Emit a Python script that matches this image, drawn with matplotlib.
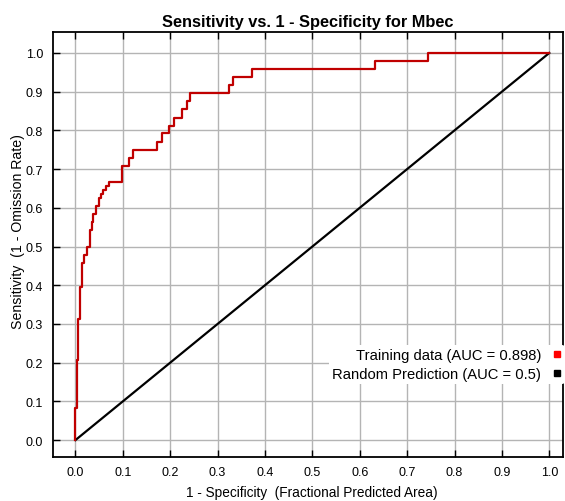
import matplotlib
matplotlib.use("Agg")
import matplotlib.pyplot as plt
from matplotlib.lines import Line2D

plt.rcParams['font.family'] = ['Liberation Sans', 'DejaVu Sans']

# ROC data (1 - specificity, sensitivity) at each step
fpr = [0.000, 0.000, 0.003, 0.006, 0.009, 0.013, 0.018, 0.024, 0.030, 0.034, 0.038,
       0.044, 0.049, 0.054, 0.058, 0.064, 0.070, 0.099, 0.114, 0.122, 0.172, 0.182,
       0.198, 0.207, 0.224, 0.235, 0.242, 0.323, 0.333, 0.373, 0.632, 0.743, 1.000]
tpr = [0.000, 0.083, 0.208, 0.3125, 0.396, 0.458, 0.479, 0.500, 0.542, 0.5625, 0.583,
       0.604, 0.625, 0.635, 0.646, 0.656, 0.667, 0.708, 0.729, 0.750, 0.771, 0.792,
       0.8125, 0.833, 0.854, 0.875, 0.896, 0.917, 0.938, 0.958, 0.979, 1.000, 1.000]
random_x = [0.0, 1.0]
random_y = [0.0, 1.0]
ticks = [0.0, 0.1, 0.2, 0.3, 0.4, 0.5, 0.6, 0.7, 0.8, 0.9, 1.0]
tick_labels = ["0.0", "0.1", "0.2", "0.3", "0.4", "0.5", "0.6", "0.7", "0.8", "0.9", "1.0"]
legend_labels = ["Training data (AUC = 0.898)", "Random Prediction (AUC = 0.5)"]

fig = plt.figure(figsize=(5.65, 5.02), dpi=100)
ax = fig.add_axes([0.0933, 0.0882, 0.9032, 0.8467])

ax.plot(random_x, random_y, color='black', lw=1.6, zorder=3)
ax.plot(fpr, tpr, drawstyle='steps-post', color='#c00000', lw=1.6, zorder=4)

ax.set_xlim(-0.048, 1.029)
ax.set_ylim(-0.043, 1.055)
ax.set_xticks(ticks)
ax.set_xticklabels(tick_labels)
ax.set_yticks(ticks)
ax.set_yticklabels(tick_labels)
ax.grid(True, color='#b4b4b4', lw=1.0, zorder=0)
ax.set_axisbelow(True)
ax.tick_params(direction='in', length=5, width=1, top=True, right=False,
               labelsize=9, pad=7, colors='black')
for s in ax.spines.values():
    s.set_linewidth(1.3)
    s.set_color('black')

ax.set_title("Sensitivity vs. 1 - Specificity for Mbec", fontsize=11.8, fontweight='bold', pad=4)
ax.set_xlabel("1 - Specificity  (Fractional Predicted Area)", fontsize=9.8)
ax.set_ylabel("Sensitivity  (1 - Omission Rate)", fontsize=10.2)
ax.xaxis.set_label_coords(0.5075, -0.083, transform=ax.transAxes)
ax.yaxis.set_label_coords(-0.068, 0.533, transform=ax.transAxes)
ax.xaxis.label.set_va('center')
ax.yaxis.label.set_va('center')

handles = [Line2D([], [], ls='none', marker='s', color='#ff0000', markersize=4),
           Line2D([], [], ls='none', marker='s', color='black', markersize=4)]
leg = ax.legend(handles, legend_labels, loc='lower right', bbox_to_anchor=(1.006, 0.167),
                markerfirst=False, frameon=True, fontsize=10.6, handlelength=0.6,
                handletextpad=0.8, borderpad=0.2, labelspacing=0.38, borderaxespad=0.1)
leg.get_frame().set_facecolor('white')
leg.get_frame().set_edgecolor('none')
leg.get_frame().set_alpha(1.0)
for t in leg.get_texts():
    t.set_ha('right')
leg._legend_box.align = "right"

fig.savefig("out.png", dpi=100)
